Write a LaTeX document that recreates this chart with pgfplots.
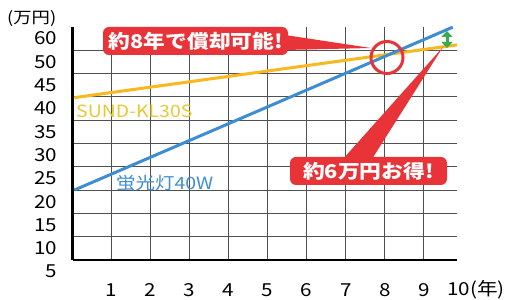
\documentclass[border=0pt]{standalone}
\usepackage{pgfplots}
\pgfplotsset{compat=1.18}
\usepackage{fontspec}
\setmainfont{Noto Sans CJK JP}
\newfontfamily\wide[FakeStretch=1.15]{Noto Sans CJK JP}
\usetikzlibrary{arrows.meta}
\definecolor{gridc}{RGB}{80,80,80}
\definecolor{bluel}{RGB}{62,140,210}
\definecolor{yell}{RGB}{248,184,30}
\definecolor{gold}{RGB}{232,200,50}
\definecolor{redc}{RGB}{232,52,56}
\definecolor{greenc}{RGB}{60,170,80}
\begin{document}
\begin{tikzpicture}
\path[use as bounding box] (0,0) rectangle (509bp,300bp);
\begin{axis}[
  at={(72.5bp,40bp)}, anchor=south west,
  scale only axis, width=384.5bp, height=233.3bp,
  xmin=0, xmax=9.85, ymin=7.5, ymax=57.5,
  axis lines*=left,
  axis line style={-, line width=2bp, black},
  xtick={1,...,9}, ytick={12.5,17.5,...,52.5},
  xticklabels={}, yticklabels={},
  major tick length=0pt,
  grid=major,
  grid style={gridc, line width=0.9bp},
  clip=false,
]
\addplot[yell, line width=3bp] coordinates {(0.05,42.3) (9.85,53.6)};
\addplot[bluel, line width=3bp] coordinates {(0.05,22.5) (9.74,57.4)};
\foreach \v/\l in {5/5,10/10,15/15,20/20,25/25,30/30,35/35,40/40,45/45,50/50,55/60}{
  \edef\temp{\noexpand\node[anchor=east, inner sep=0pt, font=\noexpand\wide\noexpand\fontsize{18}{20}\noexpand\selectfont] at (axis cs:0,\v) [xshift=-15bp] {\l};}
  \temp
}
\foreach \k in {1,...,9}{
  \edef\temp{\noexpand\node[anchor=center, inner sep=0pt, font=\noexpand\wide\noexpand\fontsize{18}{20}\noexpand\selectfont] at (axis cs:\k,7.5) [yshift=-30bp] {\k};}
  \temp
}
\node[anchor=west, inner sep=0pt, font=\wide\fontsize{18}{20}\selectfont] at (axis cs:9.6,7.5) [yshift=-30bp] {10(年)};
\end{axis}
\begin{scope}[shift={(0,300bp)}, x=1bp, y=-1bp]
  \node[anchor=west, inner sep=0pt, font=\wide\fontsize{16}{18}\selectfont] at (7,19) {(万円)};
  % callout 1
  \fill[redc] (285,35) -- (371,48) -- (285,50) -- cycle;
  \fill[redc, rounded corners=6bp] (103,27) rectangle (288,55);
  \node[white, inner sep=0pt, font=\wide\fontsize{19}{21}\selectfont\bfseries] at (196,41) {約8年で償却可能!};
  \draw[redc, line width=3bp] (387,57.5) circle (16);
  % callout 2
  \fill[redc] (343,159) -- (443,47) -- (372,159) -- cycle;
  \fill[redc, rounded corners=6bp] (290,157) rectangle (447,185);
  \node[white, inner sep=0pt, font=\wide\fontsize{19}{21}\selectfont\bfseries] at (368.5,171) {約6万円お得!};
  % green arrow
  \draw[greenc, line width=3bp, {Triangle[length=6bp,width=11bp]}-{Triangle[length=6bp,width=11bp]}] (447,31) -- (447,48);
  % series labels
  \node[anchor=west, inner sep=0pt, gold, font=\wide\fontsize{17}{19}\selectfont] at (76,111) {SUND-KL30S};
  \node[anchor=west, inner sep=0pt, bluel, font=\wide\fontsize{17}{19}\selectfont] at (116,183) {蛍光灯40W};
\end{scope}
\end{tikzpicture}
\end{document}
